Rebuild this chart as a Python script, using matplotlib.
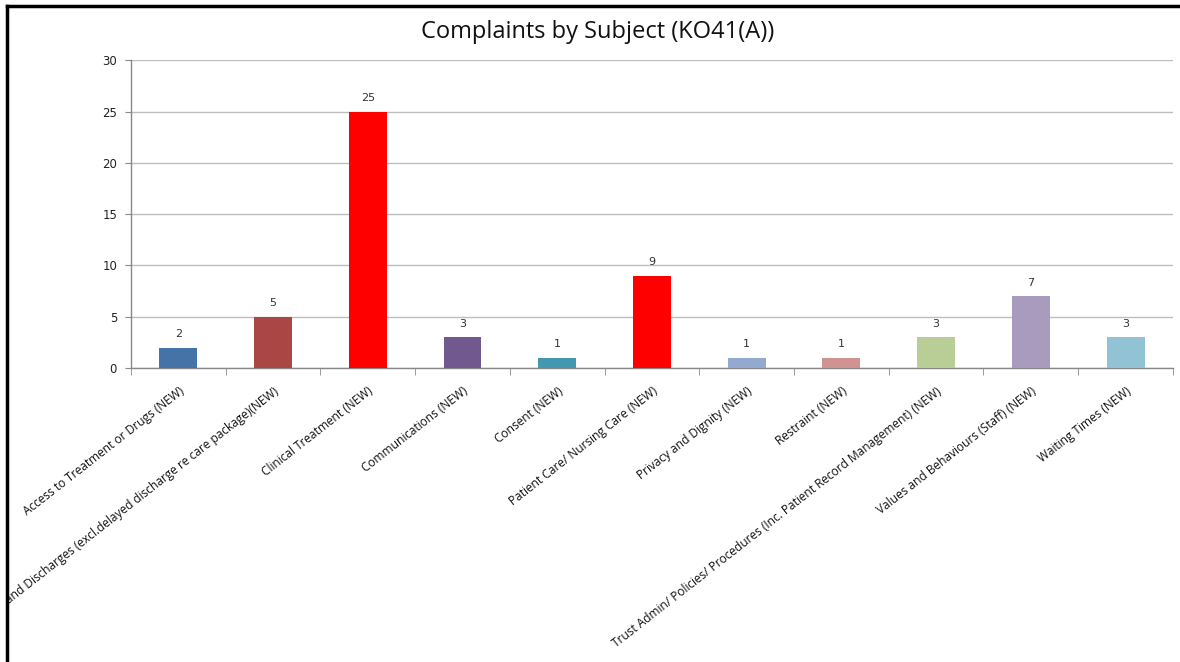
import matplotlib
matplotlib.use("Agg")
import matplotlib.pyplot as plt
from matplotlib.patches import Rectangle
from matplotlib.lines import Line2D
import numpy as np

plt.rcParams["font.family"] = ["Open Sans", "DejaVu Sans"]

subjects = [
    "Access to Treatment or Drugs (NEW)",
    "Admissions and Discharges (excl.delayed discharge re care package)(NEW)",
    "Clinical Treatment (NEW)",
    "Communications (NEW)",
    "Consent (NEW)",
    "Patient Care/ Nursing Care (NEW)",
    "Privacy and Dignity (NEW)",
    "Restraint (NEW)",
    "Trust Admin/ Policies/ Procedures (Inc. Patient Record Management) (NEW)",
    "Values and Behaviours (Staff) (NEW)",
    "Waiting Times (NEW)",
]
counts = [2, 5, 25, 3, 1, 9, 1, 1, 3, 7, 3]
bar_colors = [
    "#4572A7", "#AA4643", "#FF0000", "#71588F", "#4198AF", "#FF0000",
    "#93A9CF", "#D19392", "#B9CD96", "#A99BBD", "#92C3D5",
]
y_ticks = [0, 5, 10, 15, 20, 25, 30]

fig = plt.figure(figsize=(11.8, 6.62), dpi=100)
ax = fig.add_axes([0.111, 0.444, 0.883, 0.465])

x = np.arange(len(subjects))
ax.bar(x, counts, width=0.4, color=bar_colors, zorder=3)
for xi, v in zip(x, counts):
    ax.annotate(str(v), (xi, v), xytext=(0, 6), textcoords="offset points",
                ha="center", va="bottom", fontsize=8, color="#333333",
                family="DejaVu Sans")

ax.set_xlim(-0.5, len(subjects) - 0.5)
ax.set_ylim(0, 30)
ax.set_yticks(y_ticks)
ax.set_yticklabels([str(t) for t in y_ticks], family="DejaVu Sans", fontsize=8.5, color="#222222")
ax.yaxis.grid(True, color="#BEBEBE", linewidth=1, zorder=0)
ax.set_axisbelow(True)

ax.set_xticks(x)
ax.set_xticklabels(subjects, rotation=38, ha="right", rotation_mode="anchor",
                   fontsize=8.6, color="#111111")
ax.set_xticks(np.arange(-0.5, len(subjects)), minor=True)
ax.tick_params(axis="x", which="major", length=0, pad=12)
ax.tick_params(axis="x", which="minor", length=5, color="#888888", direction="out")
ax.tick_params(axis="y", length=4, color="#888888", pad=6)

for side in ["top", "right"]:
    ax.spines[side].set_visible(False)
for side in ["left", "bottom"]:
    ax.spines[side].set_color("#888888")
    ax.spines[side].set_linewidth(1)

fig.text(598 / 1180, 1 - 32 / 662, "Complaints by Subject (KO41(A))",
         fontsize=17, ha="center", va="center", color="#111111")

# white mask left of the page frame, then the frame itself
fig.patches.append(Rectangle((0, 0), 7 / 1180, 1, transform=fig.transFigure,
                             facecolor="white", edgecolor="none", zorder=10))
fig.lines.append(Line2D([7 / 1180, 1], [1 - 6 / 662, 1 - 6 / 662], transform=fig.transFigure,
                        color="black", linewidth=2.5, zorder=11))
fig.lines.append(Line2D([7 / 1180, 7 / 1180], [0, 1 - 6 / 662], transform=fig.transFigure,
                        color="black", linewidth=2.5, zorder=11))

fig.savefig("out.png", dpi=100)
